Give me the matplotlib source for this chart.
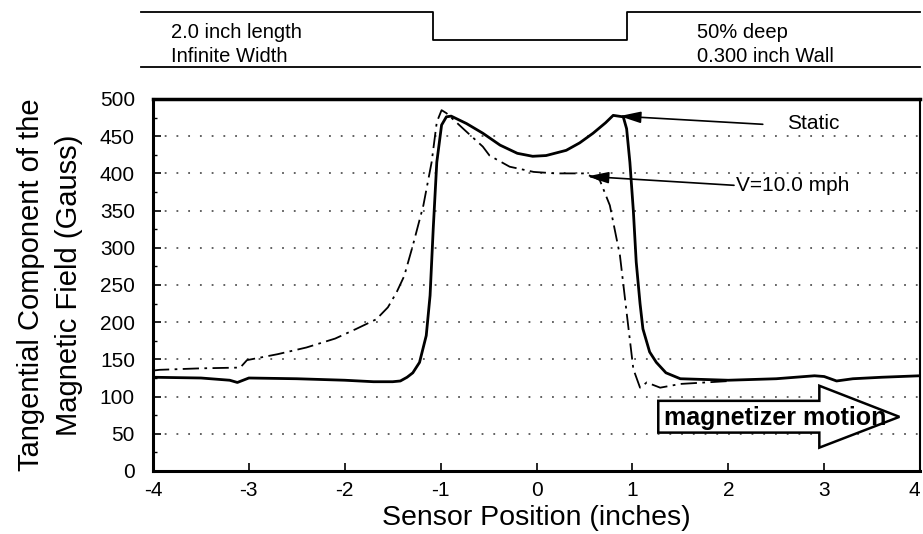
import matplotlib
matplotlib.use("Agg")
import matplotlib.pyplot as plt
from matplotlib.patches import Polygon
import numpy as np

plt.rcParams['font.family'] = ['Liberation Sans', 'DejaVu Sans']
plt.rcParams['axes.unicode_minus'] = False

# ---- data ----
static_x = [-4.0, -3.5, -3.2, -3.12, -3.0, -2.5, -2.0, -1.7, -1.5, -1.42, -1.35, -1.29,
            -1.22, -1.15, -1.11, -1.077, -1.04, -0.99, -0.94, -0.89, -0.73, -0.56, -0.38,
            -0.2, -0.04, 0.1, 0.31, 0.45, 0.59, 0.72, 0.80, 0.905, 0.94, 0.974, 1.01, 1.04,
            1.08, 1.11, 1.18, 1.25, 1.35, 1.5, 2.0, 2.5, 2.9, 3.0, 3.13, 3.3, 3.6, 4.0]
static_y = [126, 125, 122, 119, 125, 124, 122, 120, 120, 121, 126, 132,
            146, 182, 236, 326, 415, 465, 476, 477, 467, 454, 438,
            427, 423, 424, 431, 441, 454, 468, 478, 476, 460, 415, 350, 281,
            225, 191, 160, 146, 132, 124, 122, 124, 128, 127, 121, 124, 126, 128]

moving_x = [-4.0, -3.93, -3.5, -3.09, -3.02, -2.7, -2.4, -2.1, -1.88, -1.67, -1.55, -1.46,
            -1.38, -1.29, -1.18, -1.094, -1.04, -0.99, -0.94, -0.73, -0.56, -0.49, -0.28,
            -0.03, 0.2, 0.487, 0.6, 0.66, 0.765, 0.87, 0.94, 1.01, 1.08, 1.15, 1.29, 1.5, 2.02]
moving_y = [135, 136, 138, 139, 149, 157, 166, 178, 191, 204, 220, 240,
            262, 303, 357, 415, 469, 485, 481, 456, 436, 424, 409,
            402, 400, 400, 395, 391, 357, 290, 213, 137, 112, 119, 112, 117, 121]

x_ticks = [-4, -3, -2, -1, 0, 1, 2, 3, 4]
y_ticks = [0, 50, 100, 150, 200, 250, 300, 350, 400, 450, 500]

defect_edges = [-1.08, 0.94]   # sensor-position span of the defect sketch

W, H = 923, 534
fig = plt.figure(figsize=(W / 100, H / 100), dpi=100)

# ---- main axes ----
ax = fig.add_axes([153 / W, 1 - 471 / H, (920 - 153) / W, (471 - 99) / H])
ax.set_xlim(-4, 4)
ax.set_ylim(0, 500)

for yv in y_ticks[1:-1]:
    ax.axhline(yv, color='#555555', lw=1.3, ls=(0, (1, 5.5)), zorder=1)

ax.plot(static_x, static_y, color='black', lw=2.0, zorder=3, solid_joinstyle='round')
ax.plot(moving_x, moving_y, color='black', lw=1.3, ls=(0, (9, 3, 1.5, 3)), zorder=3)

ax.set_xticks(x_ticks)
ax.set_yticks(y_ticks)
ax.set_yticks(np.arange(25, 500, 50), minor=True)
ax.tick_params(axis='both', which='major', direction='in', length=6, width=1.2,
               labelsize=15)
ax.tick_params(axis='y', which='major', pad=13)
ax.tick_params(axis='y', which='minor', direction='in', length=3, width=1)
ax.tick_params(axis='x', which='major', pad=7)
xl = ax.get_xticklabels()
xl[-1].set_horizontalalignment('right')
xl[-1].set_x(4)
for side in ['left', 'bottom']:
    ax.spines[side].set_linewidth(2.2)
ax.spines['top'].set_linewidth(2.5)
ax.spines['right'].set_linewidth(1.5)

ax.set_xlabel('Sensor Position (inches)', fontsize=20.5, labelpad=4)
ax.set_ylabel('Tangential Component of the\nMagnetic Field (Gauss)', fontsize=21,
              labelpad=12, linespacing=1.45)

# annotations
arrow_kw = dict(arrowstyle='-|>,head_length=1.3,head_width=0.35', color='black',
                lw=1.2, shrinkA=0, shrinkB=0)
ax.annotate('', xy=(0.865, 477), xytext=(2.36, 466), arrowprops=arrow_kw, zorder=5)
ax.text(2.61, 467, 'Static', fontsize=15, va='center', ha='left')
ax.annotate('', xy=(0.53, 396), xytext=(2.06, 384), arrowprops=arrow_kw, zorder=5)
ax.text(2.08, 384, 'V=10.0 mph', fontsize=15, va='center', ha='left')

# magnetizer motion arrow
arr = [(1.27, 94.3), (2.95, 94.3), (2.95, 114.6), (3.785, 72.8), (2.95, 31.4),
       (2.95, 51.6), (1.27, 51.6)]
ax.add_patch(Polygon(arr, closed=True, facecolor='white', edgecolor='black', lw=1.8,
                     zorder=6))
ax.text(1.33, 71, 'magnetizer motion', fontsize=18, fontweight='bold', va='center',
        ha='left', zorder=7)

# ---- header (defect sketch) ----
hx = fig.add_axes([153 / W, 1 - 75 / H, (920 - 153) / W, 70 / H])
hx.set_xlim(-4, 4)
hx.set_ylim(0, 1)
hx.axis('off')
top_y, notch_y, bot_y = 0.9, 0.5, 0.114
hx.plot([-4.12, defect_edges[0], defect_edges[0], defect_edges[1], defect_edges[1], 4.0],
        [top_y, top_y, notch_y, notch_y, top_y, top_y], color='black', lw=1.3,
        clip_on=False)
hx.plot([-4.12, 4.0], [bot_y, bot_y], color='black', lw=1.3, clip_on=False)
hx.text(-3.81, 0.6, '2.0 inch length', fontsize=14.5, va='center', ha='left')
hx.text(-3.81, 0.27, 'Infinite Width', fontsize=14.5, va='center', ha='left')
hx.text(1.67, 0.6, '50% deep', fontsize=14.5, va='center', ha='left')
hx.text(1.67, 0.27, '0.300 inch Wall', fontsize=14.5, va='center', ha='left')

fig.savefig('out.png', dpi=100)
